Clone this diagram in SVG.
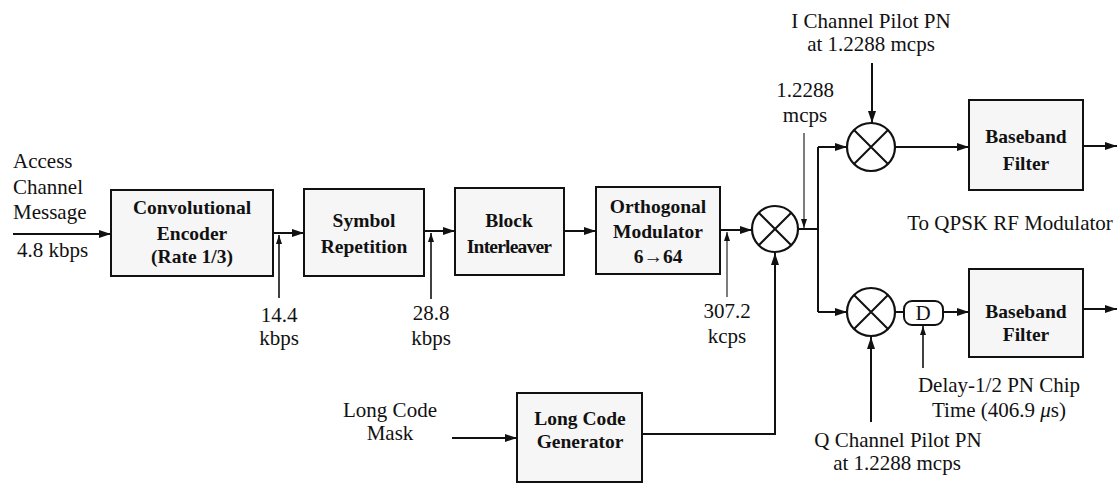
<svg xmlns="http://www.w3.org/2000/svg" width="1119" height="484" viewBox="0 0 1119 484">
<style>
.box{fill:#f6f6f6;stroke:#111;stroke-width:2}
.bt{font-family:"Liberation Serif","Times New Roman",Tinos,"DejaVu Serif",serif;font-weight:bold;font-size:19.5px;fill:#111;text-anchor:middle}
.lt{font-family:"Liberation Serif","Times New Roman",Tinos,"DejaVu Serif",serif;font-size:21px;fill:#111;text-anchor:middle}
.ltl{font-family:"Liberation Serif","Times New Roman",Tinos,"DejaVu Serif",serif;font-size:21px;fill:#111}
.c{fill:none;stroke:#111;stroke-width:2}
.cm{fill:none;stroke:#111;stroke-width:1.6}
.ct{fill:none;stroke:#111;stroke-width:1.1}
.mul{fill:#fff;stroke:#111;stroke-width:2.2}
</style>
<defs>
<marker id="ah" markerUnits="userSpaceOnUse" markerWidth="13" markerHeight="9" refX="12" refY="4" orient="auto"><path d="M0,0 L12,4 L0,8 z" fill="#111"/></marker>
<marker id="as" markerUnits="userSpaceOnUse" markerWidth="10" markerHeight="7" refX="9" refY="3" orient="auto"><path d="M0,0 L9,3 L0,6 z" fill="#111"/></marker>
</defs>
<g id="connectors">
<line class="c" x1="13" y1="234" x2="111" y2="234" marker-end="url(#ah)"/>
<line class="c" x1="273" y1="233" x2="304" y2="233" marker-end="url(#ah)"/>
<line class="cm" x1="279" y1="298" x2="279" y2="235" marker-end="url(#as)"/>
<line class="c" x1="424" y1="231" x2="455" y2="231" marker-end="url(#ah)"/>
<line class="cm" x1="431" y1="299" x2="431" y2="233" marker-end="url(#as)"/>
<line class="c" x1="564" y1="231" x2="596" y2="231" marker-end="url(#ah)"/>
<line class="c" x1="720" y1="230" x2="752" y2="230" marker-end="url(#ah)"/>
<line class="ct" x1="727" y1="297" x2="727" y2="232" marker-end="url(#as)"/>
<line class="c" x1="452" y1="438" x2="517" y2="438" marker-end="url(#ah)"/>
<path class="c" d="M642,434 H775 V253" marker-end="url(#ah)"/>
<path class="c" d="M798,229 H818"/>
<path class="c" d="M818,147 V312"/>
<line class="c" x1="818" y1="147" x2="847" y2="147" marker-end="url(#ah)"/>
<line class="c" x1="818" y1="312" x2="847" y2="312" marker-end="url(#ah)"/>
<line class="ct" x1="804" y1="133" x2="804" y2="228" marker-end="url(#as)"/>
<line class="c" x1="872" y1="63" x2="872" y2="123" marker-end="url(#ah)"/>
<line class="c" x1="895" y1="147" x2="969" y2="147" marker-end="url(#ah)"/>
<line class="c" x1="1083" y1="146" x2="1117" y2="146" marker-end="url(#ah)"/>
<line class="c" x1="895" y1="312" x2="904" y2="312"/>
<line class="c" x1="943" y1="312" x2="969" y2="312" marker-end="url(#ah)"/>
<line class="cm" x1="923" y1="368" x2="923" y2="326" marker-end="url(#as)"/>
<line class="c" x1="871" y1="422" x2="871" y2="337" marker-end="url(#ah)"/>
<line class="c" x1="1083" y1="309" x2="1117" y2="309" marker-end="url(#ah)"/>
</g>
<g id="labels">
<text class="ltl" x="13" y="168">Access</text>
<text class="ltl" x="13" y="194">Channel</text>
<text class="ltl" x="13" y="219">Message</text>
<text class="ltl" x="17" y="257">4.8 kbps</text>
<text class="lt" x="279" y="322">14.4</text>
<text class="lt" x="279" y="345">kbps</text>
<text class="lt" x="431" y="320">28.8</text>
<text class="lt" x="431" y="345">kbps</text>
<text class="lt" x="727" y="318">307.2</text>
<text class="lt" x="727" y="343">kcps</text>
<text class="lt" x="805" y="97">1.2288</text>
<text class="lt" x="805" y="122">mcps</text>
<text class="lt" x="871" y="28">I Channel Pilot PN</text>
<text class="lt" x="871" y="51">at 1.2288 mcps</text>
<text class="lt" x="1010" y="230">To QPSK RF Modulator</text>
<text class="lt" x="999" y="392">Delay-1/2 PN Chip</text>
<text class="lt" x="999" y="417">Time (406.9 <tspan font-style="italic">μ</tspan>s)</text>
<text class="lt" x="898" y="447">Q Channel Pilot PN</text>
<text class="lt" x="897" y="470">at 1.2288 mcps</text>
<text class="lt" x="390" y="417">Long Code</text>
<text class="lt" x="390" y="440">Mask</text>
</g>
<g id="conv-encoder">
<rect class="box" x="111" y="190" width="162" height="86"/>
<text class="bt" x="192" y="214">Convolutional</text>
<text class="bt" x="192" y="240">Encoder</text>
<text class="bt" x="192" y="263">(Rate 1/3)</text>
</g>
<g id="symbol-repetition">
<rect class="box" x="304" y="189" width="120" height="87"/>
<text class="bt" x="364" y="227">Symbol</text>
<text class="bt" x="364" y="253">Repetition</text>
</g>
<g id="block-interleaver">
<rect class="box" x="455" y="188" width="109" height="87"/>
<text class="bt" x="509" y="227">Block</text>
<text class="bt" x="509" y="253" letter-spacing="-0.8">Interleaver</text>
</g>
<g id="orthogonal-modulator">
<rect class="box" x="596" y="187" width="124" height="87"/>
<text class="bt" x="658" y="213">Orthogonal</text>
<text class="bt" x="658" y="238">Modulator</text>
<text class="bt" x="658" y="263">6→64</text>
</g>
<g id="long-code-generator">
<rect class="box" x="517" y="393" width="125" height="89"/>
<text class="bt" x="580" y="425">Long Code</text>
<text class="bt" x="580" y="448">Generator</text>
</g>
<g id="mult1">
<circle class="mul" cx="775" cy="229" r="23"/>
<path class="c" d="M759,213 L791,245 M791,213 L759,245"/>
</g>
<g id="mult2">
<circle class="mul" cx="871" cy="147" r="24"/>
<path class="c" d="M854,130 L888,164 M888,130 L854,164"/>
</g>
<g id="mult3">
<circle class="mul" cx="871" cy="312" r="24"/>
<path class="c" d="M854,295 L888,329 M888,295 L854,329"/>
</g>
<g id="delay">
<rect x="904" y="301" width="39" height="24" rx="8" fill="#fff" stroke="#111" stroke-width="2"/>
<text class="lt" x="923" y="320">D</text>
</g>
<g id="baseband-filter-i">
<rect class="box" x="969" y="100" width="114" height="90"/>
<text class="bt" x="1026" y="143">Baseband</text>
<text class="bt" x="1026" y="170">Filter</text>
</g>
<g id="baseband-filter-q">
<rect class="box" x="969" y="269" width="114" height="88"/>
<text class="bt" x="1026" y="318">Baseband</text>
<text class="bt" x="1026" y="341">Filter</text>
</g>
</svg>
